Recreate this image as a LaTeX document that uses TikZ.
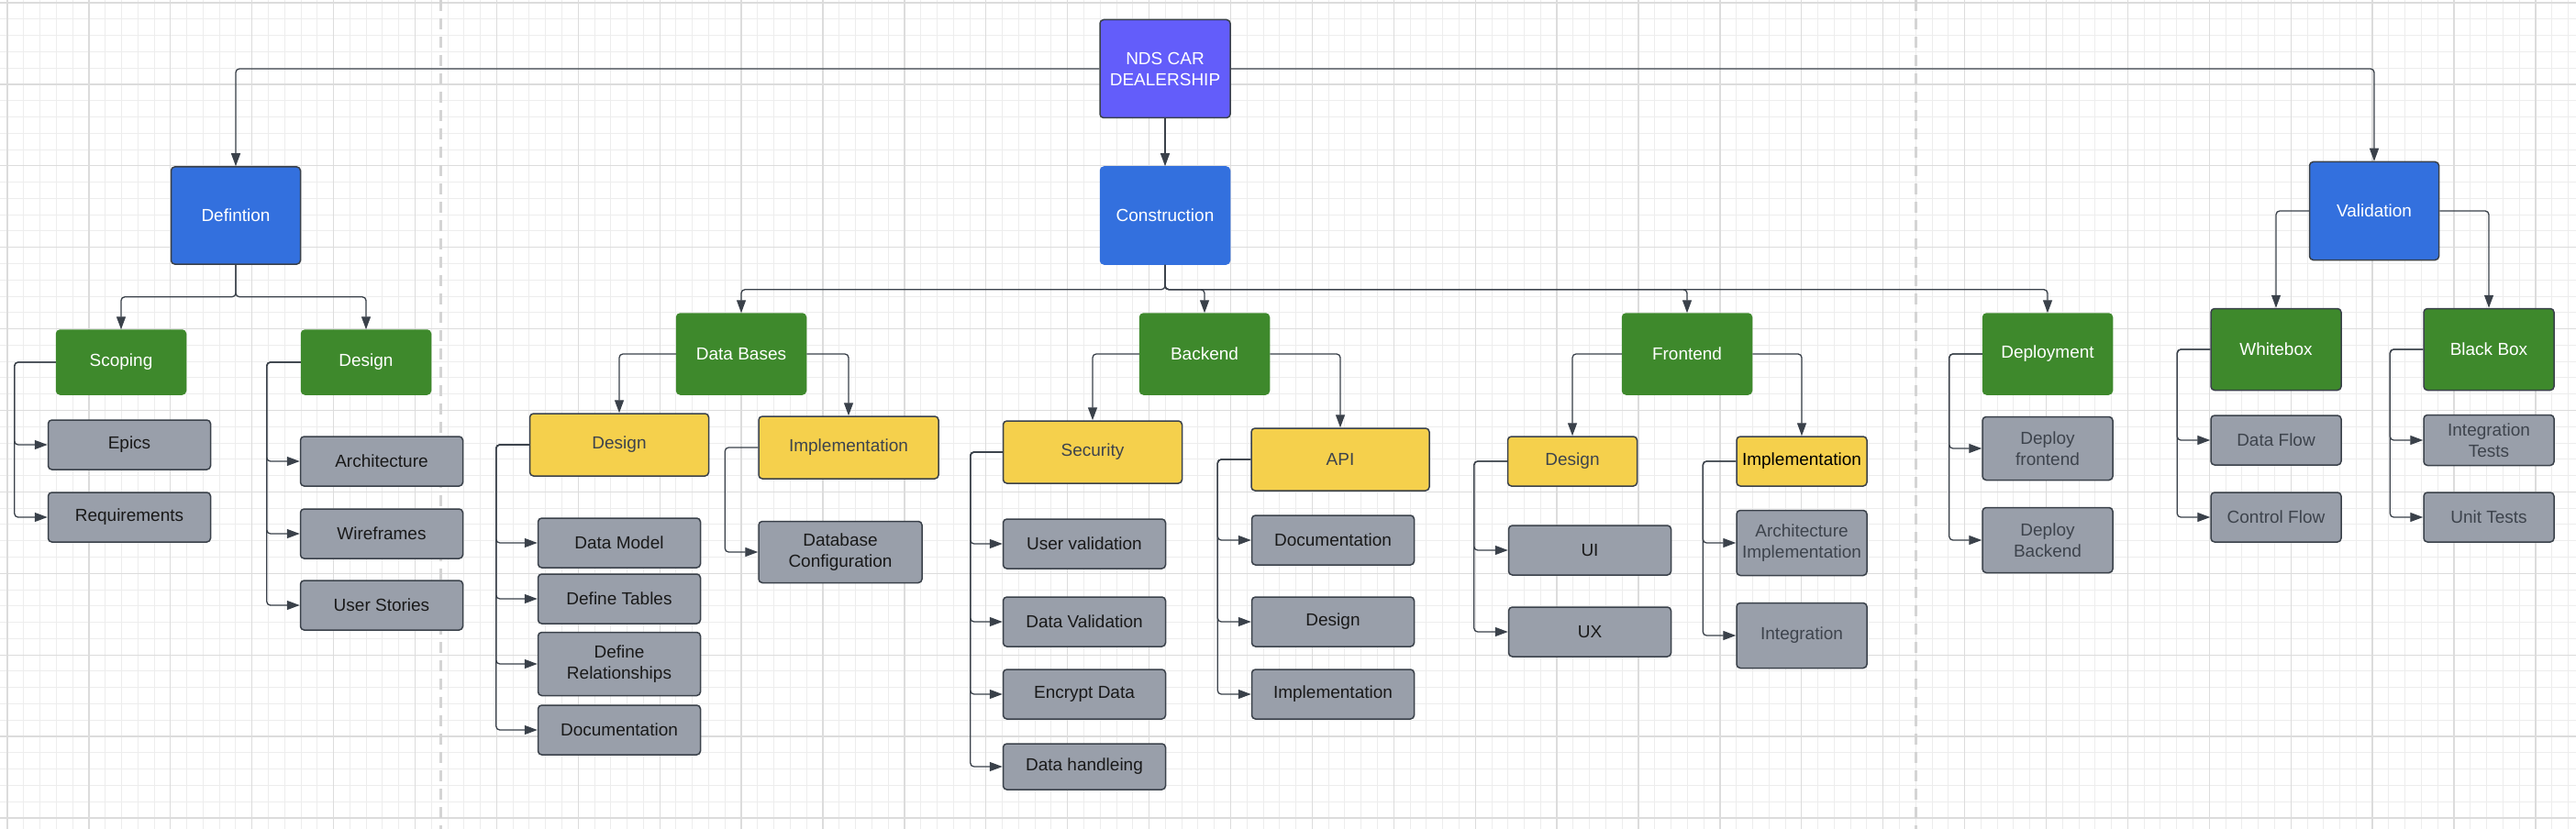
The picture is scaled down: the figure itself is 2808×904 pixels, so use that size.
\documentclass[tikz,border=0pt]{standalone}
\usepackage{fontspec}
\setmainfont{Liberation Sans}
\usepackage{xcolor}
\usepackage{tikz}
\usetikzlibrary{arrows.meta}

\definecolor{gridminor}{HTML}{EDEDED}
\definecolor{gridmajor}{HTML}{DCDCDC}
\definecolor{pagebreak}{HTML}{D4D4D4}
\definecolor{edge}{HTML}{3A414A}
\definecolor{rootfill}{HTML}{635DFA}
\definecolor{phasefill}{HTML}{3370DE}
\definecolor{partfill}{HTML}{3E892C}
\definecolor{subfill}{HTML}{F5D04C}
\definecolor{taskfill}{HTML}{999FAA}
\definecolor{dimtext}{HTML}{3D434C}

\begin{document}
\begin{tikzpicture}[x=1pt,y=-1pt,
  box/.style={rectangle,rounded corners=4pt,align=center,inner sep=2pt,
    font=\fontsize{19}{23}\selectfont,line width=1.5pt},
  rootbox/.style={box,fill=rootfill,draw=edge,text=white,minimum width=142pt,minimum height=107pt},
  phasebox/.style={box,fill=phasefill,draw=phasefill,text=white,minimum width=141pt,minimum height=106pt},
  partbox/.style={box,fill=partfill,draw=partfill,text=white,minimum width=141pt,minimum height=88pt},
  subbox/.style={box,fill=subfill,draw=edge,text=dimtext,minimum height=68pt},
  taskbox/.style={box,fill=taskfill,draw=edge,text=black!90,minimum width=177pt,minimum height=54pt},
  conn/.style={draw=edge,line width=1.3pt,rounded corners=4pt,-{Triangle[length=14pt,width=10pt]}},
]
\useasboundingbox (0,0) rectangle (2808,904);
\fill[white] (0,0) rectangle (2808,904);
% grid
\foreach \i in {0,...,157}
  \draw[gridminor,line width=1pt] ({8+17.78*\i},0) -- ++(0,904);
\foreach \j in {0,...,50}
  \draw[gridminor,line width=1pt] (0,{3+17.78*\j}) -- ++(2808,0);
\foreach \i in {0,...,31}
  \draw[gridmajor,line width=1.3pt] ({8+88.9*\i},0) -- ++(0,904);
\foreach \j in {0,...,10}
  \draw[gridmajor,line width=1.3pt] (0,{3+88.9*\j}) -- ++(2808,0);
\foreach \x in {480,2088}
  \draw[pagebreak,line width=3pt,dash pattern=on 12pt off 8pt] (\x,0) -- (\x,904);

% root and phases
\node[rootbox] (nds) at (1270,75) {NDS CAR\\DEALERSHIP};
\node[phasebox,draw=edge] (def) at (257,235) {Defintion};
\node[phasebox] (con) at (1270,235) {Construction};
\node[phasebox,draw=edge,minimum height=107pt] (val) at (2588,230) {Validation};

% definition
\node[partbox,minimum height=70pt] (scop) at (132,395) {Scoping};
\node[partbox,minimum height=70pt] (ddes) at (399,395) {Design};
\node[taskbox] (epics) at (141,485) {Epics};
\node[taskbox] (req) at (141,564) {Requirements};
\node[taskbox] (arch) at (416,503) {Architecture};
\node[taskbox] (wire) at (416,582) {Wireframes};
\node[taskbox] (story) at (416,660) {User Stories};

% construction
\node[partbox] (db) at (808,386) {Data Bases};
\node[partbox] (be) at (1313,386) {Backend};
\node[partbox] (fe) at (1839,386) {Frontend};
\node[partbox] (dep) at (2232,386) {Deployment};
\node[subbox,minimum width=195pt] (dbdes) at (675,485) {Design};
\node[subbox,minimum width=196pt] (dbimp) at (925,488) {Implementation};
\node[taskbox] (dmodel) at (675,592) {Data Model};
\node[taskbox] (dtab) at (675,653) {Define Tables};
\node[taskbox,minimum height=69pt] (drel) at (675,724) {Define\\Relationships};
\node[taskbox] (ddoc) at (675,796) {Documentation};
\node[taskbox,minimum width=178pt,minimum height=67pt] (dbconf) at (916,602) {Database\\Configuration};
\node[subbox,minimum width=195pt] (sec) at (1191,493) {Security};
\node[subbox,minimum width=194pt] (api) at (1461,501) {API};
\node[taskbox] (uval) at (1182,593) {User validation};
\node[taskbox] (dval) at (1182,678) {Data Validation};
\node[taskbox] (enc) at (1182,757) {Encrypt Data};
\node[taskbox,minimum height=50pt] (dhand) at (1182,836) {Data handleing};
\node[taskbox] (adoc) at (1453,589) {Documentation};
\node[taskbox] (ades) at (1453,678) {Design};
\node[taskbox] (aimp) at (1453,757) {Implementation};
\node[subbox,minimum width=141pt,minimum height=54pt] (fdes) at (1714,503) {Design};
\node[subbox,minimum width=142pt,minimum height=54pt,text=black] (fimp) at (1964,503) {Implementation};
\node[taskbox] (ui) at (1733,600) {UI};
\node[taskbox] (ux) at (1733,689) {UX};
\node[taskbox,minimum width=142pt,minimum height=71pt,text=dimtext] (archimp) at (1964,592) {Architecture\\Implementation};
\node[taskbox,minimum width=142pt,minimum height=71pt,text=dimtext] (integ) at (1964,693) {Integration};
\node[taskbox,minimum width=142pt,minimum height=69pt,text=dimtext] (depf) at (2232,489) {Deploy\\frontend};
\node[taskbox,minimum width=142pt,minimum height=71pt,text=dimtext] (depb) at (2232,589) {Deploy\\Backend};

% validation
\node[partbox,draw=edge,minimum width=142pt,minimum height=89pt] (wb) at (2481,381) {Whitebox};
\node[partbox,draw=edge,minimum width=142pt,minimum height=89pt] (bb) at (2713,381) {Black Box};
\node[taskbox,minimum width=142pt,text=dimtext] (dflow) at (2481,480) {Data Flow};
\node[taskbox,minimum width=142pt,text=dimtext] (cflow) at (2481,564) {Control Flow};
\node[taskbox,minimum width=142pt,minimum height=55pt,text=dimtext] (itest) at (2713,480) {Integration\\Tests};
\node[taskbox,minimum width=142pt,text=dimtext] (utest) at (2713,564) {Unit Tests};

% connectors
\draw[conn] (nds.west) -| (def.north);
\draw[conn] (nds.east) -| (val.north);
\draw[conn] (nds) -- (con);
\foreach \c in {scop,ddes}
  \draw[conn] (def.south) -- ++(0,35) -| (\c.north);
\foreach \c in {db,be,fe,dep}
  \draw[conn] (con.south) -- ++(0,27) -| (\c.north);
\draw[conn] (val.west) -| (wb.north);
\draw[conn] (val.east) -| (bb.north);
\draw[conn] (db.west) -| (dbdes.north);
\draw[conn] (db.east) -| (dbimp.north);
\draw[conn] (be.west) -| (sec.north);
\draw[conn] (be.east) -| (api.north);
\draw[conn] (fe.west) -| (fdes.north);
\draw[conn] (fe.east) -| (fimp.north);
% side lists
\foreach \c in {epics,req}
  \draw[conn] (scop.west) -- ++(-45,0) |- (\c);
\foreach \c in {arch,wire,story}
  \draw[conn] (ddes.west) -- ++(-37,0) |- (\c);
\foreach \c in {dmodel,dtab,drel,ddoc}
  \draw[conn] (dbdes.west) -- ++(-36,0) |- (\c);
\draw[conn] (dbimp.west) -- ++(-36,0) |- (dbconf);
\foreach \c in {uval,dval,enc,dhand}
  \draw[conn] (sec.west) -- ++(-35,0) |- (\c);
\foreach \c in {adoc,ades,aimp}
  \draw[conn] (api.west) -- ++(-36,0) |- (\c);
\foreach \c in {ui,ux}
  \draw[conn] (fdes.west) -- ++(-36,0) |- (\c);
\foreach \c in {archimp,integ}
  \draw[conn] (fimp.west) -- ++(-36,0) |- (\c);
\foreach \c in {depf,depb}
  \draw[conn] (dep.west) -- ++(-36,0) |- (\c);
\foreach \c in {dflow,cflow}
  \draw[conn] (wb.west) -- ++(-36,0) |- (\c);
\foreach \c in {itest,utest}
  \draw[conn] (bb.west) -- ++(-36,0) |- (\c);
\end{tikzpicture}
\end{document}
